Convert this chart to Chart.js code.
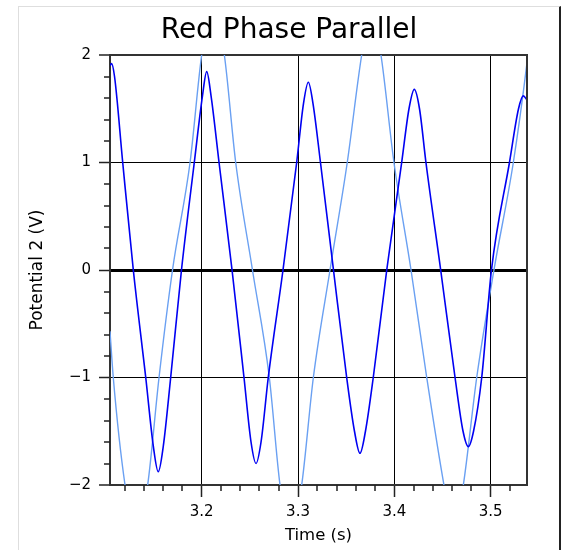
<!DOCTYPE html>
<html>
<head>
<meta charset="utf-8">
<script src="https://cdn.jsdelivr.net/npm/chart.js@4.4.1/dist/chart.umd.min.js"></script>
<style>
  html, body { margin: 0; padding: 0; background: #fff; }
  #frame { position: absolute; left: 18px; top: 6px; width: 540px; height: 544px;
           border-left: 1px solid #dedede; border-top: 1px solid #dedede; border-right: 2px solid #222; }
  #wrap { position: absolute; left: 0; top: 0; width: 540px; height: 543px; }
</style>
</head>
<body>
<div id="frame"><div id="wrap"><canvas id="myChart"></canvas></div></div>
<script>
// readings (time in s, potential in V)
var darkTime = [3.1048, 3.1064, 3.1095, 3.1180, 3.1290, 3.1419, 3.1498, 3.1549, 3.1601, 3.1678, 3.1790,
  3.1923, 3.2008, 3.2052, 3.2097, 3.2180, 3.2315, 3.2439, 3.2512, 3.2564, 3.2616, 3.2691, 3.2844,
  3.2986, 3.3057, 3.3107, 3.3155, 3.3233, 3.3368, 3.3505, 3.3586, 3.3643, 3.3700, 3.3781, 3.3921,
  3.4076, 3.4152, 3.4207, 3.4261, 3.4328, 3.4481, 3.4630, 3.4713, 3.4768, 3.4822, 3.4907, 3.5008,
  3.5195, 3.5289, 3.5339, 3.5377];
var darkVolts = [1.90, 1.92, 1.80, 1.0, 0, -1.0, -1.64, -1.876, -1.64, -1.0, 0,
  1.0, 1.62, 1.845, 1.62, 1.0, 0, -1.0, -1.6, -1.80, -1.6, -1.0, 0,
  1.0, 1.55, 1.746, 1.55, 1.0, 0, -1.0, -1.5, -1.705, -1.5, -1.0, 0,
  1.0, 1.5, 1.68, 1.5, 1.0, 0, -1.0, -1.5, -1.643, -1.5, -1.0, 0,
  1.0, 1.5, 1.62, 1.58];

var lightTime = [3.1048, 3.1082, 3.1204, 3.1321, 3.1439, 3.1557, 3.1697, 3.1879, 3.2000, 3.2117, 3.2235,
  3.2353, 3.2527, 3.2702, 3.2813, 3.2925, 3.3038, 3.3159, 3.3332, 3.3511, 3.3661, 3.3761, 3.3861,
  3.3996, 3.4173, 3.4336, 3.4515, 3.4616, 3.4716, 3.4855, 3.5034, 3.5235, 3.5380, 3.5429];
var lightVolts = [-0.57, -1.0, -2.0, -2.5, -2.0, -1.0, 0, 1.0, 2.0, 2.5, 2.0,
  1.0, 0, -1.0, -2.0, -2.5, -2.0, -1.0, 0, 1.0, 2.0, 2.45, 2.0,
  1.0, 0, -1.0, -2.0, -2.45, -2.0, -1.0, 0, 1.0, 1.95, 2.35];

var xTicks = [3.2, 3.3, 3.4, 3.5];
var xMinor = [3.12, 3.14, 3.16, 3.18, 3.22, 3.24, 3.26, 3.28, 3.32, 3.34, 3.36, 3.38, 3.42, 3.44, 3.46, 3.48, 3.52];
var yTicks = [-2, -1, 0, 1, 2];
var yMinor = [-1.8, -1.6, -1.4, -1.2, -0.8, -0.6, -0.4, -0.2, 0.2, 0.4, 0.6, 0.8, 1.2, 1.4, 1.6, 1.8];

var fam = '"DejaVu Sans", Verdana, sans-serif';

function toPoints(ts, vs) {
  return ts.map(function (t, i) { return { x: t, y: vs[i] }; });
}

// small tick marks + right edge of the plot box
var minorTicks = {
  id: 'minorTicks',
  afterDraw: function (chart) {
    var c = chart.ctx, a = chart.chartArea, x = chart.scales.x, y = chart.scales.y;
    c.save();
    c.strokeStyle = '#222';
    c.lineWidth = 1.5;
    c.beginPath();
    xMinor.forEach(function (v) {
      var px = Math.round(x.getPixelForValue(v));
      c.moveTo(px, a.bottom); c.lineTo(px, a.bottom + 6);
    });
    yMinor.forEach(function (v) {
      var py = Math.round(y.getPixelForValue(v));
      c.moveTo(a.left, py); c.lineTo(a.left - 6, py);
    });
    c.stroke();
    c.strokeStyle = '#333';
    c.lineWidth = 2;
    c.beginPath();
    c.moveTo(a.right, a.top - 1); c.lineTo(a.right, a.bottom + 1);
    c.stroke();
    c.restore();
  }
};

var ctx = document.getElementById('myChart').getContext('2d');
var myChart = new Chart(ctx, {
  type: 'line',
  data: {
    datasets: [{
      data: toPoints(darkTime, darkVolts),
      borderColor: '#0000f2',
      borderWidth: 1.6,
      pointRadius: 0,
      cubicInterpolationMode: 'monotone'
    }, {
      data: toPoints(lightTime, lightVolts),
      borderColor: '#6aa0f2',
      borderWidth: 1.4,
      pointRadius: 0,
      cubicInterpolationMode: 'monotone'
    }]
  },
  options: {
    animation: false,
    responsive: true,
    maintainAspectRatio: false,
    layout: { padding: 0 },
    plugins: {
      legend: { display: false },
      tooltip: { enabled: false },
      title: {
        display: true,
        text: 'Red Phase Parallel',
        color: '#000',
        font: { family: fam, size: 28, weight: 'normal' },
        padding: { top: 6.5, bottom: 7.9 }
      }
    },
    scales: {
      x: {
        type: 'linear',
        min: 3.1048,
        max: 3.5377,
        afterBuildTicks: function (s) { s.ticks = xTicks.map(function (v) { return { value: v }; }); },
        afterFit: function (s) { s.height = 65; },
        grid: { color: '#000', lineWidth: 1, tickLength: 12, tickColor: '#222', tickWidth: 1.5 },
        border: { color: '#333', width: 2 },
        ticks: {
          color: '#000', font: { family: fam, size: 15 }, padding: 6,
          maxRotation: 0, autoSkip: false,
          callback: function (v) { return v.toFixed(1); }
        },
        title: {
          display: true, text: 'Time (s)', color: '#000',
          font: { family: fam, size: 16.5 }, padding: { top: 0, bottom: 4.2 }
        }
      },
      y: {
        min: -2,
        max: 2,
        afterBuildTicks: function (s) { s.ticks = yTicks.map(function (v) { return { value: v }; }); },
        afterFit: function (s) { s.width = 91; },
        grid: {
          color: function (c) { return c.tick && Math.abs(c.tick.value) === 2 ? '#333' : '#000'; },
          lineWidth: function (c) {
            if (!c.tick) return 1;
            if (c.tick.value === 0) return 3;
            if (Math.abs(c.tick.value) === 2) return 2;
            return 1;
          },
          tickLength: 11, tickColor: '#222', tickWidth: 1.5
        },
        border: { color: '#333', width: 2 },
        ticks: {
          color: '#000', font: { family: fam, size: 15 }, padding: 8,
          callback: function (v) { return v < 0 ? '\u2212' + Math.abs(v) : String(v); }
        },
        title: {
          display: true, text: 'Potential 2 (V)', color: '#000',
          font: { family: fam, size: 17 }, padding: { top: 8, bottom: 0 }
        }
      },
      // empty right-hand box so the plot ends where the picture's does
      y2: {
        position: 'right',
        grid: { display: false, drawTicks: false },
        border: { display: false },
        ticks: { display: false },
        afterFit: function (s) { s.width = 32; }
      }
    }
  },
  plugins: [minorTicks]
});
</script>
</body>
</html>
